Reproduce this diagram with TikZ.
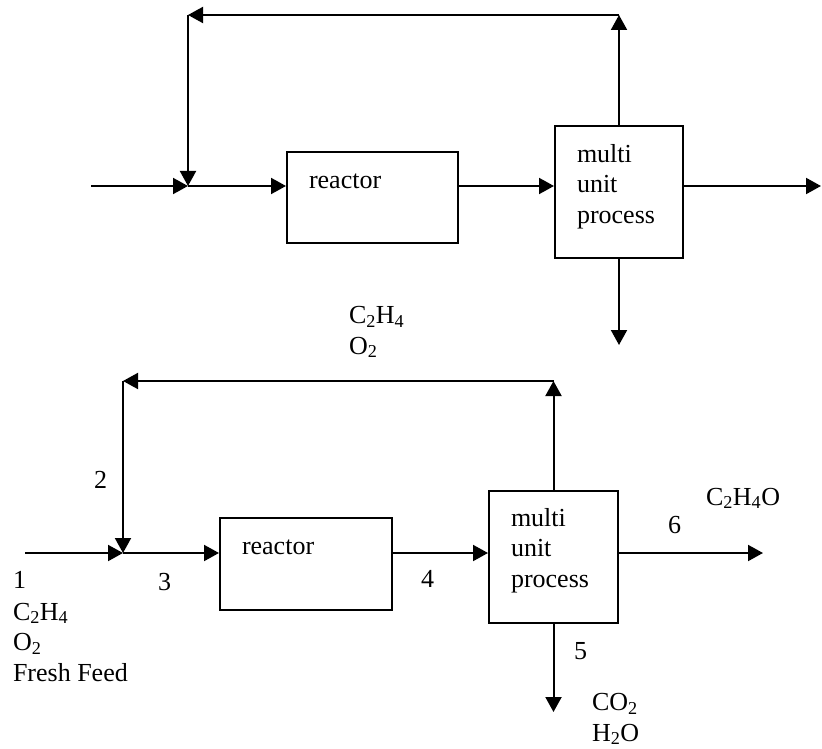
\documentclass[tikz,border=0pt]{standalone}
\usepackage{fontspec}
\setmainfont{Liberation Serif}
\usetikzlibrary{arrows.meta,calc}

\begin{document}
\begin{tikzpicture}[x=1pt,y=-1pt,line width=2pt]
 \tikzstyle{flow}=[-{Triangle[length=15pt,width=16pt]}]
 \tikzstyle{unit}=[draw,inner sep=0pt]
 \tikzstyle{txt}=[inner sep=0pt,anchor=base west,align=left,
 font=\fontsize{26}{30.5}\selectfont]
\useasboundingbox (0,0) rectangle (822,749);
% upper sketch
\coordinate (feedA) at (91,186);
\coordinate (mixA) at (188,186);
\node[unit,minimum width=171pt,minimum height=91pt] (reactA) at (372.5,197.5) {};
\node[unit,minimum width=128pt,minimum height=132pt] (mupA) at (619,192) {};
\coordinate (topA) at (619,15);
\coordinate (backA) at (188,15);
\coordinate (prodA) at (821,186);
\coordinate (wasteA) at (619,345);
\draw[flow] (feedA) -- (mixA);
\draw[flow] (mixA) -- (mixA -| reactA.west);
\draw[flow] (mixA -| reactA.east) -- (mixA -| mupA.west);
\draw[flow] (mupA.north) -- (topA);
\draw[flow] (topA) -- (backA);
\draw[flow] (backA) -- (mixA);
\draw[flow] (mixA -| mupA.east) -- (prodA);
\draw[flow] (mupA.south) -- (wasteA);
\node[txt] (reactAtxt) at (308,189) {reactor};
% multi-line nodes sit on their last baseline
\node[txt] (mupAtxt) at (576,223) {multi\\unit\\process};
% lower sketch, with stream numbers
\coordinate (feedB) at (25,553);
\coordinate (mixB) at (123,553);
\node[unit,minimum width=172pt,minimum height=92pt] (reactB) at (306,564) {};
\node[unit,minimum width=129pt,minimum height=132pt] (mupB) at (553.5,557) {};
\coordinate (topB) at (553.5,381);
\coordinate (backB) at (123,381);
\coordinate (prodB) at (763,553);
\coordinate (wasteB) at (553.5,712);
\draw[flow] (feedB) -- (mixB);
\draw[flow] (mixB) -- (mixB -| reactB.west);
\draw[flow] (mixB -| reactB.east) -- (mixB -| mupB.west);
\draw[flow] (mupB.north) -- (topB);
\draw[flow] (topB) -- (backB);
\draw[flow] (backB) -- (mixB);
\draw[flow] (mixB -| mupB.east) -- (prodB);
\draw[flow] (mupB.south) -- (wasteB);
\node[txt] (reactBtxt) at (241,554) {reactor};
\node[txt] (mupBtxt) at (510,587) {multi\\unit\\process};
\node[txt] (recyc) at (348,354) {C\textsubscript{2}H\textsubscript{4}\\O\textsubscript{2}};
\node[txt] (s1) at (12,588) {1};
\node[txt] (fresh) at (12,681) {C\textsubscript{2}H\textsubscript{4}\\O\textsubscript{2}\\Fresh Feed};
\node[txt] (s2) at (93,488) {2};
\node[txt] (s3) at (157,590) {3};
\node[txt] (s4) at (420,587) {4};
\node[txt] (s5) at (573,659) {5};
\node[txt] (s6) at (667,533) {6};
\node[txt] (prod) at (705,505) {C\textsubscript{2}H\textsubscript{4}O};
\node[txt] (waste) at (591,741) {CO\textsubscript{2}\\H\textsubscript{2}O};
\end{tikzpicture}
\end{document}
